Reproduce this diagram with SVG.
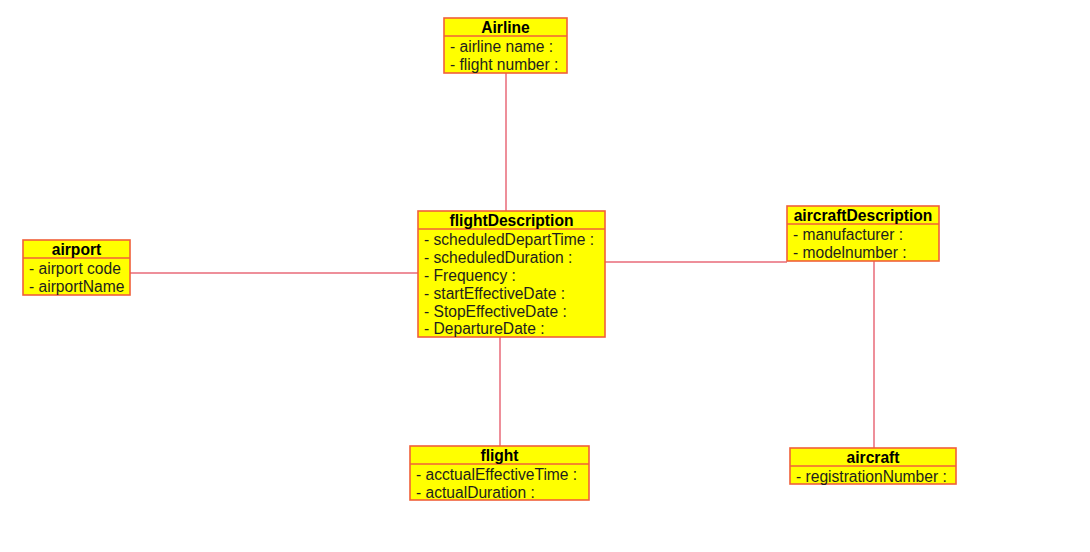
<svg xmlns="http://www.w3.org/2000/svg" width="1090" height="552" viewBox="0 0 1090 552">
  <style>
    .box { fill: #ffff00; stroke: #f0603a; stroke-width: 1.6; }
    .sep { stroke: #f0603a; stroke-width: 1.6; }
    .title { font-family: "Liberation Sans", Arial, sans-serif; font-size: 15.6px; font-weight: bold; fill: #000; text-anchor: middle; }
    .attr { font-family: "Liberation Sans", Arial, sans-serif; font-size: 15.6px; fill: #1e1e1e; }
    .link { stroke: #e86a78; stroke-width: 1.5; fill: none; }
  </style>
  <rect width="1090" height="552" fill="#ffffff"/>

  <!-- associations -->
  <g id="connectors">
    <line class="link" x1="506" y1="73" x2="506" y2="211"/>
    <line class="link" x1="130" y1="273" x2="418" y2="273"/>
    <line class="link" x1="605" y1="262" x2="787" y2="262"/>
    <line class="link" x1="500" y1="337" x2="500" y2="446"/>
    <line class="link" x1="874" y1="261" x2="874" y2="448"/>
  </g>

  <g id="airline">
    <rect class="box" x="444" y="18" width="123" height="55"/>
    <line class="sep" x1="444" y1="36" x2="567" y2="36"/>
    <text class="title" x="505.5" y="33">Airline</text>
    <text class="attr" x="450" y="52">- airline name :</text>
    <text class="attr" x="450" y="70">- flight number :</text>
  </g>

  <g id="flightDescription">
    <rect class="box" x="418" y="211" width="187" height="126"/>
    <line class="sep" x1="418" y1="229" x2="605" y2="229"/>
    <text class="title" x="511.5" y="225.5">flightDescription</text>
    <text class="attr" x="424" y="245">- scheduledDepartTime :</text>
    <text class="attr" x="424" y="263">- scheduledDuration :</text>
    <text class="attr" x="424" y="281">- Frequency :</text>
    <text class="attr" x="424" y="299">- startEffectiveDate :</text>
    <text class="attr" x="424" y="316.5">- StopEffectiveDate :</text>
    <text class="attr" x="424" y="334">- DepartureDate :</text>
  </g>

  <g id="airport">
    <rect class="box" x="23" y="240" width="107" height="55"/>
    <line class="sep" x1="23" y1="258" x2="130" y2="258"/>
    <text class="title" x="76.5" y="254.5">airport</text>
    <text class="attr" x="29" y="274">- airport code</text>
    <text class="attr" x="29" y="292">- airportName</text>
  </g>

  <g id="aircraftDescription">
    <rect class="box" x="787" y="206" width="152" height="55"/>
    <line class="sep" x1="787" y1="224" x2="939" y2="224"/>
    <text class="title" x="863" y="220.5">aircraftDescription</text>
    <text class="attr" x="793" y="240">- manufacturer :</text>
    <text class="attr" x="793" y="258">- modelnumber :</text>
  </g>

  <g id="flight">
    <rect class="box" x="410" y="446" width="179" height="54"/>
    <line class="sep" x1="410" y1="464" x2="589" y2="464"/>
    <text class="title" x="499.5" y="460.5">flight</text>
    <text class="attr" x="416" y="480">- acctualEffectiveTime :</text>
    <text class="attr" x="416" y="498">- actualDuration :</text>
  </g>

  <g id="aircraft">
    <rect class="box" x="790" y="448" width="166" height="36"/>
    <line class="sep" x1="790" y1="466" x2="956" y2="466"/>
    <text class="title" x="873" y="462.5">aircraft</text>
    <text class="attr" x="796" y="481.5">- registrationNumber :</text>
  </g>
</svg>
